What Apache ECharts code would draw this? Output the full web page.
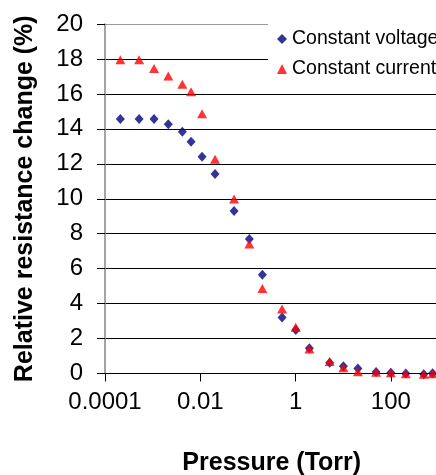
<!DOCTYPE html>
<html>
<head>
<meta charset="UTF-8"/>
<title></title>
<script src="https://cdn.jsdelivr.net/npm/echarts@6/dist/echarts.min.js"></script>
<style>
html,body{margin:0;padding:0;background:#fff;}
#main{width:436px;height:475px;}
</style>
</head>
<body>
<div id="main"></div>
<script type="text/javascript">
// pressure (Torr)
var pressure = [0.00021, 0.00052, 0.00107, 0.00213, 0.0042, 0.0064, 0.0109, 0.0204,
                0.0512, 0.107, 0.201, 0.521, 1.01, 1.95, 5.2, 10.1, 20.3, 49, 100, 206, 490, 750];
// relative resistance change (%)
var constVoltage = [14.56, 14.56, 14.56, 14.26, 13.84, 13.26, 12.41, 11.42,
                    9.30, 7.70, 5.65, 3.21, 2.49, 1.44, 0.62, 0.42, 0.28, 0.08, 0.05, 0.0, -0.05, 0.02];
var constCurrent = [17.96, 17.96, 17.46, 17.02, 16.55, 16.13, 14.87, 12.26,
                    9.99, 7.41, 4.87, 3.69, 2.64, 1.40, 0.68, 0.33, 0.10, 0.07, 0.05, -0.02, -0.05, -0.02];
var xTickLabels = ['0.0001', '0.01', '1', '100'];
var seriesNames = ['Constant voltage', 'Constant current'];

function pairs(xs, ys){
	var out = [];
	for (var i = 0; i < xs.length; i++) out.push([xs[i], ys[i]]);
	return out;
}

var font = '"Liberation Sans", Arial, sans-serif';
// top grid line is grey, the rest black
var splitColors = ['#000','#000','#000','#000','#000','#000','#000','#000','#000','#000','#9a9a9a'];

var myChart = echarts.init(document.getElementById('main'));
var option = {
	backgroundColor: '#fff',
	animation: false,
	grid: {left: 105, top: 24, bottom: 101.5, right: -2.5, outerBoundsMode: 'none', containLabel: false},
	legend: {
		orient: 'vertical',
		left: 268,
		top: 19,
		padding: [10, 10, 10, 9],
		backgroundColor: '#fff',
		itemWidth: 10,
		itemHeight: 10,
		itemGap: 10,
		textStyle: {fontFamily: font, fontSize: 19.5, color: '#000'},
		data: seriesNames
	},
	xAxis: {
		type: 'log',
		logBase: 10,
		min: 0.0001,
		max: 1000,
		interval: 2,
		name: 'Pressure (Torr)',
		nameLocation: 'middle',
		nameGap: 77,
		nameTextStyle: {fontFamily: font, fontSize: 25, fontWeight: 'bold', color: '#000'},
		axisLine: {lineStyle: {color: '#000', width: 1}},
		axisTick: {show: true, inside: false, length: 8, lineStyle: {color: '#000'}},
		minorTick: {show: false},
		splitLine: {show: false},
		axisLabel: {
			margin: 17,
			fontFamily: font, fontSize: 24, color: '#000',
			formatter: function(v){
				var s = String(v);
				return xTickLabels.indexOf(s) >= 0 ? s : '';
			}
		}
	},
	yAxis: {
		type: 'value',
		min: 0,
		max: 20,
		interval: 2,
		name: 'Relative resistance change (%)',
		nameLocation: 'middle',
		nameGap: 67,
		nameTextStyle: {fontFamily: font, fontSize: 25, fontWeight: 'bold', color: '#000'},
		axisLine: {show: true, lineStyle: {color: '#868686', width: 1.5}},
		axisTick: {show: true, inside: false, length: 8, lineStyle: {color: '#000'}},
		splitLine: {show: true, lineStyle: {color: splitColors, width: 1}},
		axisLabel: {margin: 22, fontFamily: font, fontSize: 24, color: '#000'}
	},
	series: [
		{
			name: seriesNames[0],
			type: 'scatter',
			symbol: 'diamond',
			symbolSize: [9, 10],
			clip: false,
			itemStyle: {color: '#000080'},
			data: pairs(pressure, constVoltage)
		},
		{
			name: seriesNames[1],
			type: 'scatter',
			symbol: 'triangle',
			symbolSize: [10, 9],
			clip: false,
			itemStyle: {color: '#ff0000'},
			data: pairs(pressure, constCurrent)
		}
	]
};
myChart.setOption(option);
</script>
</body>
</html>
